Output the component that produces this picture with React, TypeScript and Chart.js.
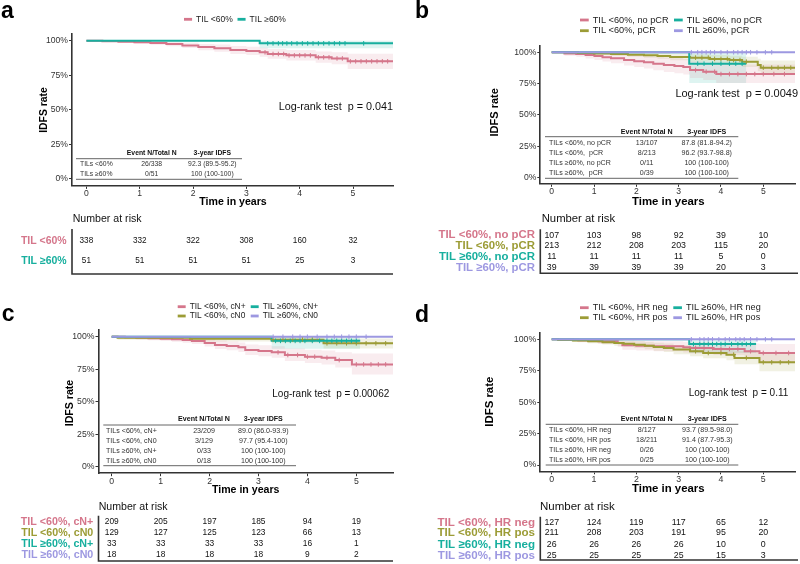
import React, { useEffect, useRef } from "react";
import { Chart, registerables } from "chart.js";
Chart.register(...registerables);

const FONT = '"Liberation Sans", Arial, Helvetica, sans-serif';
const PINK = "#D5768B";
const TEAL = "#17AF9E";
const OLIVE = "#9C9C36";
const PURPLE = "#9D98E1";
const INK = "#333333";

const X_TICKS = [0, 1, 2, 3, 4, 5];
const Y_TICKS = [0, 25, 50, 75, 100];
const X_MIN = -0.27, X_MAX = 5.75, Y_MIN = -5, Y_MAX = 105;
const TABLE_HEAD = ["Event N/Total N", "3-year IDFS"];

// ---------- Panel a ----------
const A_LABELS = ["TIL <60%", "TIL ≥60%"];
const A1_T = [0, 0.3, 0.6, 0.9, 1.2, 1.5, 1.8, 2.1, 2.4, 2.7, 3.0, 3.25, 3.4, 3.75, 4.3, 4.6, 4.9];
const A1_S = [100, 99.7, 99.3, 98.9, 98.3, 97.6, 96.6, 95.4, 94.6, 93.2, 92.6, 91.6, 90.4, 89.4, 88.0, 87.2, 85.1];
const A1_LO = [100, 99.1, 98.5, 97.8, 97.0, 96.0, 94.7, 93.1, 92.1, 90.4, 89.6, 88.4, 86.9, 85.7, 84.0, 83.0, 79.5];
const A1_HI = [100, 100, 100, 100, 99.7, 99.2, 98.5, 97.7, 97.2, 96.1, 95.6, 94.9, 94.0, 93.2, 92.2, 91.6, 90.6];
const A1_CENS = [3.35, 3.5, 3.6, 3.7, 3.8, 3.9, 4.0, 4.1, 4.2, 4.35, 4.45, 4.55, 4.7, 4.8, 4.95, 5.05, 5.15, 5.25, 5.35, 5.45, 5.55, 5.65];
const A2_T = [0, 3.25];
const A2_S = [100, 98.1];
const A2_LO = [100, 94.5];
const A2_HI = [100, 100];
const A2_CENS = [3.4, 3.5, 3.6, 3.68, 3.76, 3.85, 3.95, 4.05, 4.15, 4.25, 4.35, 4.45, 4.55, 4.65, 4.75, 4.85, 5.2];
const A_END = [5.75, 5.75];
const A_RISK1 = [338, 332, 322, 308, 160, 32];
const A_RISK2 = [51, 51, 51, 51, 25, 3];
const A_TABLE = [
  ["TILs <60%", "26/338", "92.3 (89.5-95.2)"],
  ["TILs ≥60%", "0/51", "100 (100-100)"],
];
const A_PVAL = "Log-rank test  p = 0.041";

// ---------- Panel b ----------
const B_LABELS = ["TIL <60%, no pCR", "TIL <60%, pCR", "TIL ≥60%, no pCR", "TIL ≥60%, pCR"];
const B1_T = [0, 0.3, 0.58, 0.8, 1.01, 1.2, 1.4, 1.71, 1.95, 2.18, 2.4, 2.65, 2.9, 3.11, 3.27, 3.58, 3.89];
const B1_S = [100, 99.1, 98.6, 97.8, 97.0, 96.1, 95.2, 93.8, 92.9, 92.0, 90.9, 89.8, 89.0, 88.2, 85.8, 84.5, 82.6];
const B1_LO = [100, 97.3, 96.4, 95.1, 93.8, 92.6, 91.3, 89.4, 88.2, 87.0, 85.6, 84.2, 83.2, 82.2, 79.4, 77.8, 75.5];
const B1_HI = [100, 100, 100, 100, 100, 99.8, 99.2, 98.4, 97.8, 97.2, 96.5, 95.8, 95.2, 94.6, 92.7, 91.8, 90.3];
const B1_CENS = [3.4, 3.65, 3.85, 4.0, 4.2, 4.4, 4.6, 4.8, 5.0, 5.25, 5.5];
const B2_T = [0, 0.62, 1.0, 1.4, 1.8, 2.18, 2.5, 2.8, 3.27, 3.74, 4.2, 4.5, 4.87, 4.94];
const B2_S = [100, 99.5, 99.1, 98.6, 98.1, 97.6, 97.0, 96.2, 95.7, 94.7, 93.8, 92.5, 89.8, 87.7];
const B2_LO = [100, 98.6, 97.9, 97.1, 96.4, 95.6, 94.8, 93.7, 92.4, 91.1, 89.9, 88.2, 84.9, 82.2];
const B2_HI = [100, 100, 100, 100, 99.9, 99.7, 99.4, 98.8, 98.5, 97.9, 97.3, 96.5, 94.8, 93.5];
const B2_CENS = [3.4, 3.55, 3.7, 3.85, 4.0, 4.15, 4.3, 4.45, 4.6, 5.0, 5.2, 5.35, 5.5, 5.65];
const B3_T = [0, 3.25];
const B3_S = [100, 90.9];
const B3_LO = [100, 75.5];
const B3_HI = [100, 100];
const B3_CENS = [3.45, 3.6, 3.8, 4.0, 4.2, 4.35, 4.5];
const B4_T = [0];
const B4_S = [100];
const B4_LO = [100];
const B4_HI = [100];
const B4_CENS = [3.3, 3.45, 3.55, 3.65, 3.75, 3.85, 4.0, 4.15, 4.3, 4.4, 4.5, 4.6, 4.7, 4.85, 5.05, 5.2];
const B_END = [5.75, 5.75, 4.6, 5.75];
const B_RISK1 = [107, 103, 98, 92, 39, 10];
const B_RISK2 = [213, 212, 208, 203, 115, 20];
const B_RISK3 = [11, 11, 11, 11, 5, 0];
const B_RISK4 = [39, 39, 39, 39, 20, 3];
const B_TABLE = [
  ["TILs <60%, no pCR", "13/107", "87.8 (81.8-94.2)"],
  ["TILs <60%,  pCR", "8/213", "96.2 (93.7-98.8)"],
  ["TILs ≥60%, no pCR", "0/11", "100 (100-100)"],
  ["TILs ≥60%,  pCR", "0/39", "100 (100-100)"],
];
const B_PVAL = "Log-rank test  p = 0.0049";

// ---------- Panel c ----------
const C_LABELS = ["TIL <60%, cN+", "TIL <60%, cN0", "TIL ≥60%, cN+", "TIL ≥60%, cN0"];
const C1_T = [0, 0.27, 0.5, 0.75, 1.0, 1.23, 1.45, 1.64, 1.9, 2.11, 2.35, 2.59, 2.73, 3.0, 3.27, 3.54, 3.95, 4.29, 4.57, 4.91];
const C1_S = [100, 99.5, 99.1, 98.8, 98.4, 98.0, 97.4, 96.7, 95.1, 93.6, 92.8, 91.8, 89.8, 89.0, 88.0, 85.9, 84.6, 83.8, 82.0, 78.7];
const C1_LO = [100, 98.5, 97.8, 97.3, 96.7, 96.1, 95.3, 94.4, 92.4, 90.5, 89.5, 88.3, 85.9, 85.0, 83.8, 81.4, 79.8, 78.7, 76.4, 71.0];
const C1_HI = [100, 100, 100, 100, 100, 99.9, 99.6, 99.1, 98.0, 97.0, 96.3, 95.5, 94.0, 93.4, 92.6, 91.0, 89.9, 89.3, 88.0, 87.0];
const C1_CENS = [3.4, 3.6, 3.8, 4.0, 4.15, 4.4, 4.65, 5.0, 5.15, 5.3, 5.45, 5.6];
const C2_T = [0, 0.12, 1.6, 3.27, 4.33];
const C2_S = [100, 99.2, 98.4, 97.7, 94.9];
const C2_LO = [100, 97.7, 96.3, 95.4, 91.0];
const C2_HI = [100, 100, 100, 100, 98.7];
const C2_CENS = [3.3, 3.5, 3.7, 3.9, 4.1, 4.4, 4.6, 4.8, 5.0, 5.2, 5.4, 5.6];
const C3_T = [0, 3.27];
const C3_S = [100, 96.8];
const C3_LO = [100, 90.8];
const C3_HI = [100, 100];
const C3_CENS = [3.35, 3.45, 3.55, 3.65, 3.75, 3.85, 3.95, 4.1, 4.25, 4.4, 4.5, 4.6, 4.7, 4.8, 4.9, 5.0];
const C4_T = [0];
const C4_S = [100];
const C4_LO = [100];
const C4_HI = [100];
const C4_CENS = [3.3, 3.5, 3.7, 3.85, 4.0, 4.2, 4.4, 4.55, 4.7, 4.85, 5.0, 5.2];
const C_END = [5.75, 5.75, 5.08, 5.75];
const C_RISK1 = [209, 205, 197, 185, 94, 19];
const C_RISK2 = [129, 127, 125, 123, 66, 13];
const C_RISK3 = [33, 33, 33, 33, 16, 1];
const C_RISK4 = [18, 18, 18, 18, 9, 2];
const C_TABLE = [
  ["TILs <60%, cN+", "23/209", "89.0 (86.0-93.9)"],
  ["TILs <60%, cN0", "3/129", "97.7 (95.4-100)"],
  ["TILs ≥60%, cN+", "0/33", "100 (100-100)"],
  ["TILs ≥60%, cN0", "0/18", "100 (100-100)"],
];
const C_PVAL = "Log-rank test  p = 0.00062";

// ---------- Panel d ----------
const D_LABELS = ["TIL <60%, HR neg", "TIL <60%, HR pos", "TIL ≥60%, HR neg", "TIL ≥60%, HR pos"];
const D1_T = [0, 0.15, 0.62, 1.1, 1.56, 1.67, 2.0, 2.41, 3.11, 3.27, 3.82, 4.56, 4.91];
const D1_S = [100, 99.7, 99.2, 98.4, 97.0, 95.2, 94.8, 94.4, 93.7, 93.1, 92.3, 90.5, 89.1];
const D1_LO = [100, 99.1, 97.7, 96.2, 94.1, 91.6, 91.0, 90.5, 89.5, 88.7, 87.6, 85.2, 81.0];
const D1_HI = [100, 100, 100, 100, 100, 99.1, 98.8, 98.5, 98.0, 97.6, 97.2, 96.6, 96.2];
const D1_CENS = [3.4, 3.6, 3.8, 4.0, 4.2, 4.4, 4.7, 5.0, 5.3, 5.6];
const D2_T = [0, 0.15, 0.5, 0.86, 1.2, 1.48, 1.7, 1.95, 2.2, 2.41, 2.65, 2.88, 3.27, 3.58, 4.13, 4.32, 4.91];
const D2_S = [100, 99.7, 99.0, 98.4, 97.7, 97.0, 96.4, 95.7, 94.8, 93.9, 93.1, 91.8, 90.5, 89.1, 87.8, 85.2, 81.7];
const D2_LO = [100, 99.0, 97.8, 96.9, 95.9, 94.9, 94.1, 93.1, 92.0, 90.8, 89.8, 88.0, 86.6, 84.9, 83.3, 80.1, 74.5];
const D2_HI = [100, 100, 100, 100, 99.6, 99.2, 98.8, 98.4, 97.8, 97.2, 96.6, 95.4, 94.6, 93.5, 92.6, 90.6, 89.5];
const D2_CENS = [3.4, 3.7, 4.0, 4.3, 4.6, 5.0, 5.2, 5.4, 5.6];
const D3_T = [0, 3.25];
const D3_S = [100, 96.2];
const D3_LO = [100, 89.0];
const D3_HI = [100, 100];
const D3_CENS = [3.35, 3.5, 3.6, 3.7, 3.8, 3.9, 4.0, 4.1, 4.25, 4.4, 4.5, 4.6, 4.7];
const D4_T = [0];
const D4_S = [100];
const D4_LO = [100];
const D4_HI = [100];
const D4_CENS = [3.3, 3.5, 3.6, 3.7, 3.8, 3.95, 4.1, 4.2, 4.35, 4.45, 4.55, 4.7, 4.85, 5.05, 5.2];
const D_END = [5.75, 5.75, 4.83, 5.75];
const D_RISK1 = [127, 124, 119, 117, 65, 12];
const D_RISK2 = [211, 208, 203, 191, 95, 20];
const D_RISK3 = [26, 26, 26, 26, 10, 0];
const D_RISK4 = [25, 25, 25, 25, 15, 3];
const D_TABLE = [
  ["TILs <60%, HR neg", "8/127", "93.7 (89.5-98.0)"],
  ["TILs <60%, HR pos", "18/211", "91.4 (87.7-95.3)"],
  ["TILs ≥60%, HR neg", "0/26", "100 (100-100)"],
  ["TILs ≥60%, HR pos", "0/25", "100 (100-100)"],
];
const D_PVAL = "Log-rank test  p = 0.11";

// ---------- types & builders ----------
type Group = { label: string; color: string; t: number[]; s: number[]; lo: number[]; hi: number[]; end: number; cens: number[]; risk: number[] };
type Panel = {
  id: string; ox: number; oy: number; l: number; r: number; t: number; b: number;
  groups: Group[]; letter: [number, number];
  legendFont: number; legendPos: [number, number][];
  pval: string; pX: number; pY: number; pFont: number;
  table: string[][]; tX0: number; tX1: number; tHead: number; tLine: number; tRows: number[]; tBottom: number; tLabelX: number; tC1: number; tC2: number; tFont: number;
  xTitle: [number, number, number]; yTitle: [number, number, number];
  riskTitle: [number, number, number]; riskRows: number[]; riskLabelR: number; riskLabelFont: number; riskNumFont: number; riskBox: [number, number];
  tickFont: number;
};

const mk = (label: string, color: string, t: number[], s: number[], lo: number[], hi: number[], end: number, cens: number[], risk: number[]): Group =>
  ({ label, color, t, s, lo, hi, end, cens, risk });

const PANELS: Panel[] = [
  {
    id: "a", ox: 0, oy: 0, l: 72, r: 393, t: 33.8, b: 185.9,
    groups: [
      mk(A_LABELS[0], PINK, A1_T, A1_S, A1_LO, A1_HI, A_END[0], A1_CENS, A_RISK1),
      mk(A_LABELS[1], TEAL, A2_T, A2_S, A2_LO, A2_HI, A_END[1], A2_CENS, A_RISK2),
    ],
    letter: [1, 18.3], legendFont: 8.5, legendPos: [[184, 19.3], [237.5, 19.3]],
    pval: A_PVAL, pX: 393, pY: 107, pFont: 10.8,
    table: A_TABLE, tX0: 76, tX1: 242, tHead: 153.3, tLine: 158.7, tRows: [164.3, 174], tBottom: 179.3, tLabelX: 80, tC1: 151.7, tC2: 212.3, tFont: 6.8,
    xTitle: [233, 202, 10.6], yTitle: [44, 110, 10.4],
    riskTitle: [72.7, 218.7, 10.6], riskRows: [240.7, 260.7], riskLabelR: 66.7, riskLabelFont: 10.5, riskNumFont: 8.2, riskBox: [229, 274],
    tickFont: 8.6,
  },
  {
    id: "b", ox: 400, oy: 0, l: 540.3, r: 798, t: 46, b: 183.8,
    groups: [
      mk(B_LABELS[0], PINK, B1_T, B1_S, B1_LO, B1_HI, B_END[0], B1_CENS, B_RISK1),
      mk(B_LABELS[1], OLIVE, B2_T, B2_S, B2_LO, B2_HI, B_END[1], B2_CENS, B_RISK2),
      mk(B_LABELS[2], TEAL, B3_T, B3_S, B3_LO, B3_HI, B_END[2], B3_CENS, B_RISK3),
      mk(B_LABELS[3], PURPLE, B4_T, B4_S, B4_LO, B4_HI, B_END[3], B4_CENS, B_RISK4),
    ],
    letter: [415, 18.3], legendFont: 9.2, legendPos: [[580, 20], [580, 30.7], [674, 20], [674, 30.7]],
    pval: B_PVAL, pX: 798, pY: 94.3, pFont: 11,
    table: B_TABLE, tX0: 545, tX1: 738.3, tHead: 131.7, tLine: 136.7, tRows: [143.3, 153.3, 163.3, 173.3], tBottom: 178.3, tLabelX: 549, tC1: 646.7, tC2: 706.7, tFont: 7.1,
    xTitle: [668.3, 201.7, 11.4], yTitle: [495, 112.3, 11],
    riskTitle: [541.7, 219.3, 11.3], riskRows: [235.3, 245.9, 256.9, 267.5], riskLabelR: 535, riskLabelFont: 11.4, riskNumFont: 8.8, riskBox: [229.3, 273.3],
    tickFont: 8.6,
  },
  {
    id: "c", ox: 0, oy: 282, l: 98.5, r: 393, t: 330.2, b: 473.2,
    groups: [
      mk(C_LABELS[0], PINK, C1_T, C1_S, C1_LO, C1_HI, C_END[0], C1_CENS, C_RISK1),
      mk(C_LABELS[1], OLIVE, C2_T, C2_S, C2_LO, C2_HI, C_END[1], C2_CENS, C_RISK2),
      mk(C_LABELS[2], TEAL, C3_T, C3_S, C3_LO, C3_HI, C_END[2], C3_CENS, C_RISK3),
      mk(C_LABELS[3], PURPLE, C4_T, C4_S, C4_LO, C4_HI, C_END[3], C4_CENS, C_RISK4),
    ],
    letter: [1.7, 320.7], legendFont: 8.4, legendPos: [[177.7, 306.7], [177.7, 316], [250.7, 306.7], [250.7, 316]],
    pval: C_PVAL, pX: 389.3, pY: 394, pFont: 10,
    table: C_TABLE, tX0: 103.3, tX1: 296, tHead: 419.3, tLine: 425, tRows: [430.7, 441, 451.3, 461.3], tBottom: 465.7, tLabelX: 106, tC1: 204, tC2: 263.3, tFont: 7.1,
    xTitle: [245.7, 490, 10.6], yTitle: [70, 403, 10.6],
    riskTitle: [98.7, 506.7, 10.6], riskRows: [521.7, 532.6, 543.8, 555.1], riskLabelR: 93.3, riskLabelFont: 10.7, riskNumFont: 8.4, riskBox: [515.7, 561],
    tickFont: 8.7,
  },
  {
    id: "d", ox: 400, oy: 282, l: 540.3, r: 798, t: 333, b: 471.3,
    groups: [
      mk(D_LABELS[0], PINK, D1_T, D1_S, D1_LO, D1_HI, D_END[0], D1_CENS, D_RISK1),
      mk(D_LABELS[1], OLIVE, D2_T, D2_S, D2_LO, D2_HI, D_END[1], D2_CENS, D_RISK2),
      mk(D_LABELS[2], TEAL, D3_T, D3_S, D3_LO, D3_HI, D_END[2], D3_CENS, D_RISK3),
      mk(D_LABELS[3], PURPLE, D4_T, D4_S, D4_LO, D4_HI, D_END[3], D4_CENS, D_RISK4),
    ],
    letter: [415, 321.7], legendFont: 9.1, legendPos: [[580, 307.7], [580, 317.7], [673.3, 307.7], [673.3, 317.7]],
    pval: D_PVAL, pX: 788.3, pY: 393.3, pFont: 10,
    table: D_TABLE, tX0: 545.7, tX1: 738.3, tHead: 419.3, tLine: 424.3, tRows: [430, 440, 450.3, 460.3], tBottom: 465, tLabelX: 549, tC1: 646.7, tC2: 707.3, tFont: 7.1,
    xTitle: [668.3, 489, 11.4], yTitle: [490, 401.7, 11.4],
    riskTitle: [540, 506.7, 11.5], riskRows: [522.3, 533, 544.3, 555.3], riskLabelR: 535, riskLabelFont: 11.6, riskNumFont: 8.8, riskBox: [516.7, 560],
    tickFont: 8.8,
  },
];

const CW = 400, CH = 282, YAX_W = 32, XAX_H = 20;

function stepPts(t: number[], s: number[], end: number) {
  const pts: { x: number; y: number }[] = [];
  for (let i = 0; i < t.length; i++) {
    if (i > 0) pts.push({ x: t[i], y: s[i - 1] });
    pts.push({ x: t[i], y: s[i] });
  }
  pts.push({ x: end, y: s[s.length - 1] });
  return pts;
}
function sAt(t: number[], s: number[], c: number) {
  let v = s[0];
  for (let i = 0; i < t.length; i++) if (t[i] <= c) v = s[i];
  return v;
}
function alpha(hex: string, a: number) {
  const n = parseInt(hex.slice(1), 16);
  return `rgba(${(n >> 16) & 255},${(n >> 8) & 255},${n & 255},${a})`;
}

function buildDatasets(p: Panel) {
  const ds: any[] = [];
  const n = p.groups.length;
  p.groups.forEach((g, gi) => {
    ds.push({ data: stepPts(g.t, g.lo, g.end), borderWidth: 0, borderColor: "transparent", pointRadius: 0, fill: false, order: 300 });
    ds.push({ data: stepPts(g.t, g.hi, g.end), borderWidth: 0, borderColor: "transparent", pointRadius: 0, fill: "-1", backgroundColor: alpha(g.color, 0.14), order: 300 });
  });
  p.groups.forEach((g, gi) => {
    ds.push({ data: stepPts(g.t, g.s, g.end), borderColor: g.color, borderWidth: 2, pointRadius: 0, fill: false, tension: 0, order: 100 + n - gi });
    ds.push({
      data: g.cens.map((c) => ({ x: c, y: sAt(g.t, g.s, c) })), showLine: false, pointStyle: "cross",
      pointRadius: 2.3, pointBorderWidth: 1, pointBorderColor: g.color, borderColor: g.color, order: 50 + n - gi,
    });
  });
  return ds;
}

function txt(ctx: CanvasRenderingContext2D, s: string, x: number, y: number, size: number, color: string, align: CanvasTextAlign, bold = false) {
  ctx.font = `${bold ? "bold " : ""}${size}px ${FONT}`;
  ctx.fillStyle = color;
  ctx.textAlign = align;
  ctx.textBaseline = "middle";
  ctx.fillText(s, x, y);
}
function hline(ctx: CanvasRenderingContext2D, x0: number, x1: number, y: number, w: number, c: string) {
  ctx.beginPath(); ctx.strokeStyle = c; ctx.lineWidth = w; ctx.moveTo(x0, y); ctx.lineTo(x1, y); ctx.stroke();
}

function panelPlugin(p: Panel) {
  return {
    id: "panelDecor" + p.id,
    afterDraw(chart: any) {
      const ctx: CanvasRenderingContext2D = chart.ctx;
      const xs = chart.scales.x;
      ctx.save();
      ctx.translate(-p.ox, -p.oy);
      // panel letter
      ctx.font = `bold 23px ${FONT}`; ctx.fillStyle = "#000"; ctx.textAlign = "left"; ctx.textBaseline = "alphabetic";
      ctx.fillText(p.id, p.letter[0], p.letter[1]);
      // legend
      const kl = p.legendFont * 0.95;
      p.groups.forEach((g, i) => {
        const [x, y] = p.legendPos[i];
        hline(ctx, x, x + kl, y, 2.8, g.color);
        txt(ctx, g.label, x + kl + 4, y, p.legendFont, "#222", "left");
      });
      // p-value
      txt(ctx, p.pval, p.pX, p.pY, p.pFont, "#111", "right");
      // summary table
      txt(ctx, TABLE_HEAD[0], p.tC1, p.tHead, p.tFont, "#111", "center", true);
      txt(ctx, TABLE_HEAD[1], p.tC2, p.tHead, p.tFont, "#111", "center", true);
      hline(ctx, p.tX0, p.tX1, p.tLine, 0.9, "#555");
      p.table.forEach((row, i) => {
        txt(ctx, row[0], p.tLabelX, p.tRows[i], p.tFont, INK, "left");
        txt(ctx, row[1], p.tC1, p.tRows[i], p.tFont, INK, "center");
        txt(ctx, row[2], p.tC2, p.tRows[i], p.tFont, INK, "center");
      });
      hline(ctx, p.tX0, p.tX1, p.tBottom, 0.9, "#555");
      // axis titles
      txt(ctx, "Time in years", p.xTitle[0], p.xTitle[1], p.xTitle[2], "#000", "center", true);
      ctx.save();
      ctx.translate(p.yTitle[0], p.yTitle[1]);
      ctx.rotate(-Math.PI / 2);
      txt(ctx, "IDFS rate", 0, 0, p.yTitle[2], "#000", "center", true);
      ctx.restore();
      // risk table
      txt(ctx, "Number at risk", p.riskTitle[0], p.riskTitle[1], p.riskTitle[2], "#111", "left");
      ctx.beginPath(); ctx.strokeStyle = INK; ctx.lineWidth = 1.6;
      ctx.moveTo(p.l, p.riskBox[0]); ctx.lineTo(p.l, p.riskBox[1]); ctx.lineTo(p.r, p.riskBox[1]); ctx.stroke();
      p.groups.forEach((g, i) => {
        const y = p.riskRows[i];
        txt(ctx, g.label, p.riskLabelR, y, p.riskLabelFont, g.color, "right", true);
        g.risk.forEach((v, j) => {
          const x = xs.getPixelForValue(X_TICKS[j]) + p.ox;
          txt(ctx, String(v), x, y, p.riskNumFont, "#111", "center");
        });
      });
      ctx.restore();
    },
  };
}

function PanelChart({ p }: { p: Panel }) {
  const ref = useRef<HTMLCanvasElement | null>(null);
  useEffect(() => {
    if (!ref.current) return;
    const tickFont = { family: FONT, size: p.tickFont };
    const chart = new Chart(ref.current, {
      type: "line",
      data: { datasets: buildDatasets(p) },
      options: {
        animation: false,
        responsive: false,
        maintainAspectRatio: false,
        events: [],
        layout: {
          padding: {
            left: p.l - p.ox - YAX_W,
            top: p.t - p.oy,
            right: p.ox + CW - p.r,
            bottom: p.oy + CH - p.b - XAX_H,
          },
        },
        plugins: { legend: { display: false }, tooltip: { enabled: false } },
        scales: {
          x: {
            type: "linear", min: X_MIN, max: X_MAX,
            afterFit: (s: any) => { s.height = XAX_H; },
            afterBuildTicks: (s: any) => { s.ticks = X_TICKS.map((v) => ({ value: v })); },
            grid: { drawOnChartArea: false, drawTicks: true, tickLength: 3, color: INK, tickColor: INK },
            border: { display: true, color: INK, width: 1.6 },
            ticks: { font: tickFont, color: INK, padding: 0, maxRotation: 0, callback: (v: any) => String(v) },
          },
          y: {
            type: "linear", min: Y_MIN, max: Y_MAX,
            afterFit: (s: any) => { s.width = YAX_W; },
            afterBuildTicks: (s: any) => { s.ticks = Y_TICKS.map((v) => ({ value: v })); },
            grid: { drawOnChartArea: false, drawTicks: true, tickLength: 3, color: INK, tickColor: INK },
            border: { display: true, color: INK, width: 1.6 },
            ticks: { font: tickFont, color: INK, padding: 1, callback: (v: any) => `${v}%` },
          },
        },
      } as any,
      plugins: [panelPlugin(p)],
    });
    return () => chart.destroy();
  }, [p]);
  return (
    <canvas
      ref={ref}
      width={CW}
      height={CH}
      style={{ position: "absolute", left: p.ox, top: p.oy, width: CW, height: CH }}
    />
  );
}

export default function App() {
  return (
    <div style={{ position: "fixed", left: 0, top: 0, width: 800, height: 564, background: "#fff", overflow: "hidden" }}>
      {PANELS.map((p) => (
        <PanelChart key={p.id} p={p} />
      ))}
    </div>
  );
}
